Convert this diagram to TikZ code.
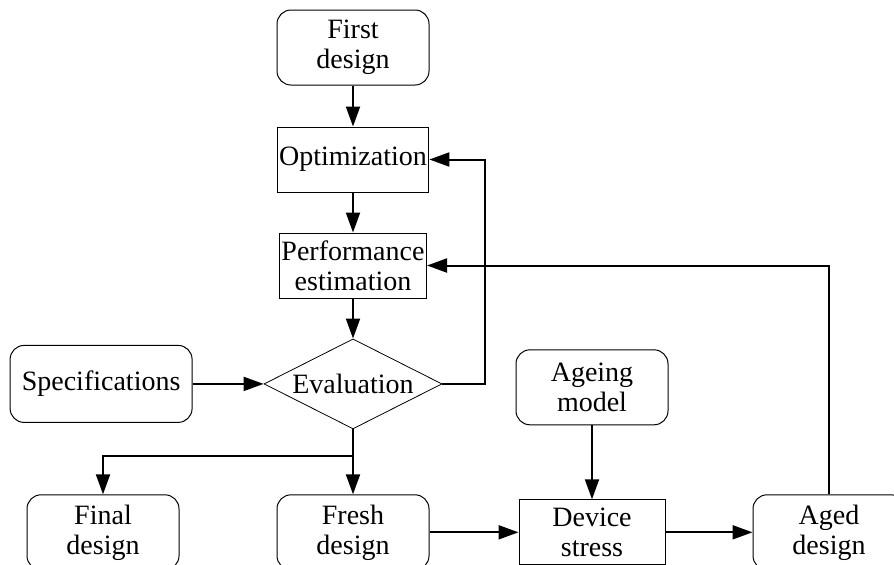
\documentclass[tikz,border=0pt]{standalone}
\usepackage{fontspec}
\setmainfont{Liberation Serif}
\usetikzlibrary{shapes.geometric, arrows.meta, positioning}

\begin{document}
\begin{tikzpicture}[x=0.5pt, y=-0.5pt,
        every node/.style={font=\fontsize{14}{15}\selectfont},
        term/.style={draw, rounded corners=7pt, line width=0.5pt,
                     minimum width=76pt, minimum height=37.5pt,
                     align=center, inner sep=1pt},
        proc/.style={draw, line width=0.5pt,
                     minimum width=73pt, minimum height=32.5pt,
                     align=center, inner sep=1pt},
        decision/.style={draw, diamond, aspect=2, line width=0.4pt,
                     minimum width=89pt, minimum height=45pt, inner sep=0pt},
        arr/.style={-{Triangle[length=10pt, width=7pt]}, line width=1pt}
      ]
        \clip (0,0) rectangle (894,564);
        \node[term] (first) at (353,47.5) {First\\design};
        \node[proc, below=20.5pt of first] (opt) {Optimization};
        \node[proc, below=20pt of opt] (perf) {Performance\\estimation};
        \node[decision, below=20pt of perf] (eval) {Evaluation};
        \node[term, left=35.5pt of eval, minimum width=91pt, minimum height=38.5pt]
          (spec) {Specifications};
        \node[term, below=32.5pt of eval] (fresh) {Fresh\\design};
        \node[term, left=48.5pt of fresh] (final) {Final\\design};
        \node[proc, right=44.5pt of fresh] (stress) {Device\\stress};
        \node[term, right=43.5pt of stress] (aged) {Aged\\design};
        \node[term, above=37pt of stress] (ageing) {Ageing\\model};
        \coordinate[below=13.5pt of eval.south] (split);
        \draw[arr] (first) -- (opt);
        \draw[arr] (opt) -- (perf);
        \draw[arr] (perf) -- (eval);
        \draw[arr] (spec) -- (eval);
        \draw[arr] (eval) -- (fresh);
        \draw[arr] (split) -| (final);
        \draw[arr] (eval.east) -- ++(21.5pt,0) |- (opt.east);
        \draw[arr] (aged.north) |- (perf.east);
        \draw[arr] (ageing) -- (stress);
        \draw[arr] (fresh) -- (stress);
        \draw[arr] (stress) -- (aged);
      \end{tikzpicture}
\end{document}
